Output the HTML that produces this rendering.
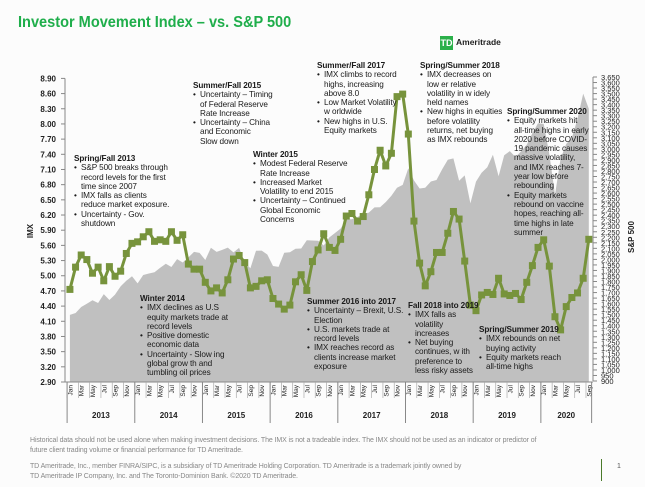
<!DOCTYPE html>
<html><head><meta charset="utf-8">
<style>
body{margin:0;background:#fff;}
#wrap{position:relative;width:645px;height:487px;overflow:hidden;font-family:"Liberation Sans",Arial,sans-serif;background:#fcfcfc;}
.ann{position:absolute;font-size:8.2px;line-height:9.3px;color:#1a1a1a;white-space:nowrap;letter-spacing:-0.1px;}
.ann .t{font-weight:bold;margin-left:-7px;}
.ann .b{position:relative;}
.ann .b:before{content:"•";position:absolute;left:-7px;}
.foot{position:absolute;font-size:7px;color:#888;line-height:10px;white-space:nowrap;letter-spacing:-0.1px;}
</style></head><body>
<div id="wrap">
<div style="position:absolute;left:18px;top:14px;font-size:16px;font-weight:bold;color:#1fae4b;transform:scaleX(0.91);transform-origin:0 0;white-space:nowrap;">Investor Movement Index – vs. S&amp;P 500</div>
<div style="position:absolute;left:440px;top:36px;height:14px;">
 <div style="position:absolute;left:0;top:0;width:13px;height:14px;background:#2bb04a;color:#fff;font-size:9px;font-weight:bold;line-height:14px;text-align:center;">TD</div>
 <div style="position:absolute;left:16px;top:1px;font-size:8.5px;font-weight:bold;color:#222;">Ameritrade</div>
</div>
<svg id="chart" width="645" height="487" style="position:absolute;left:0;top:0;"></svg>

<div class="ann" style="left:81px;top:154px;"><div class="t">Spring/Fall 2013</div><div class="b">S&amp;P 500 breaks through<br>record levels for the first<br>time since 2007</div><div class="b">IMX falls as clients<br>reduce market exposure.</div><div class="b">Uncertainty - Gov.<br>shutdown</div></div>
<div class="ann" style="left:200px;top:81px;"><div class="t">Summer/Fall 2015</div><div class="b">Uncertainty – Timing<br>of Federal Reserve<br>Rate Increase</div><div class="b">Uncertainty – China<br>and Economic<br>Slow down</div></div>
<div class="ann" style="left:260px;top:150px;"><div class="t">Winter 2015</div><div class="b">Modest Federal Reserve<br>Rate Increase</div><div class="b">Increased Market<br>Volatility to end 2015</div><div class="b">Uncertainty – Continued<br>Global Economic<br>Concerns</div></div>
<div class="ann" style="left:147px;top:294px;"><div class="t">Winter 2014</div><div class="b">IMX declines as U.S<br>equity markets trade at<br>record levels</div><div class="b">Positive domestic<br>economic data</div><div class="b">Uncertainty - Slow ing<br>global grow th and<br>tumbling oil prices</div></div>
<div class="ann" style="left:314px;top:297px;"><div class="t">Summer 2016 into 2017</div><div class="b">Uncertainty – Brexit, U.S.<br>Election</div><div class="b">U.S. markets trade at<br>record levels</div><div class="b">IMX reaches record as<br>clients increase market<br>exposure</div></div>
<div class="ann" style="left:324px;top:61px;"><div class="t">Summer/Fall 2017</div><div class="b">IMX climbs to record<br>highs, increasing<br>above 8.0</div><div class="b">Low Market Volatility<br>w orldwide</div><div class="b">New highs in U.S.<br>Equity markets</div></div>
<div class="ann" style="left:427px;top:61px;"><div class="t">Spring/Summer 2018</div><div class="b">IMX decreases on<br>low er relative<br>volatility in w idely<br>held names</div><div class="b">New highs in equities<br>before volatility<br>returns, net buying<br>as IMX rebounds</div></div>
<div class="ann" style="left:514px;top:107px;"><div class="t">Spring/Summer 2020</div><div class="b">Equity markets hit<br>all-time highs in early<br>2020 before COVID-<br>19 pandemic causes<br>massive volatility,<br>and IMX reaches 7-<br>year low before<br>rebounding</div><div class="b">Equity markets<br>rebound on vaccine<br>hopes, reaching all-<br>time highs in late<br>summer</div></div>
<div class="ann" style="left:415px;top:301px;"><div class="t">Fall 2018 into 2019</div><div class="b">IMX falls as<br>volatility<br>increases</div><div class="b">Net buying<br>continues, w ith<br>preference to<br>less risky assets</div></div>
<div class="ann" style="left:486px;top:325px;"><div class="t">Spring/Summer 2019</div><div class="b">IMX rebounds on net<br>buying activity</div><div class="b">Equity markets reach<br>all-time highs</div></div>

<div class="foot" style="left:30px;top:436px;">Historical data should not be used alone when making investment decisions. The IMX is not a tradeable index. The IMX should not be used as an indicator or predictor of<br>future client trading volume or financial performance for TD Ameritrade.</div>
<div class="foot" style="left:30px;top:462px;">TD Ameritrade, Inc., member FINRA/SIPC, is a subsidiary of TD Ameritrade Holding Corporation. TD Ameritrade is a trademark jointly owned by<br>TD Ameritrade IP Company, Inc. and The Toronto-Dominion Bank. ©2020 TD Ameritrade.</div>
<div style="position:absolute;left:601px;top:459px;width:1px;height:22px;background:#4a7a2a;"></div>
<div style="position:absolute;left:617px;top:463px;font-size:7px;color:#555;">1</div>
</div>
<script>
const years = ["2013","2014","2015","2016","2017","2018","2019","2020"];
const monthNames = ["Jan","Feb","Mar","Apr","May","Jun","Jul","Aug","Sep","Oct","Nov","Dec"];
const imxValues = [4.73,5.17,5.41,5.32,5.05,5.17,4.90,5.18,4.99,5.09,5.44,5.64,
 5.67,5.77,5.87,5.68,5.71,5.68,5.87,5.70,5.81,5.23,5.13,5.13,
 4.87,4.70,4.76,4.66,4.92,5.33,5.40,5.26,4.76,4.79,4.90,4.92,
 4.55,4.44,4.34,4.42,4.88,5.02,4.71,5.28,5.51,5.83,5.56,5.50,
 5.72,6.18,6.23,6.08,6.17,6.60,7.10,7.48,7.17,7.42,8.54,8.59,
 7.80,6.08,5.25,4.80,5.08,5.46,5.46,5.84,6.27,6.12,5.29,4.42,
 4.31,4.62,4.67,4.63,4.95,4.64,4.61,4.65,4.53,4.87,5.20,5.56,
 5.71,5.19,4.19,3.93,4.39,4.57,4.66,4.95,5.72];
const spxValues = [1498,1515,1569,1598,1631,1606,1686,1633,1682,1757,1806,1848,
 1783,1859,1872,1884,1924,1960,1931,2003,1972,2018,2068,2059,
 1995,2105,2068,2086,2107,2063,2104,1972,1920,2079,2080,2044,
 1940,1932,2060,2065,2097,2099,2174,2171,2168,2126,2199,2239,
 2279,2364,2363,2384,2412,2423,2470,2472,2519,2575,2648,2674,
 2824,2714,2641,2648,2705,2718,2816,2902,2914,2712,2760,2507,
 2704,2784,2834,2946,2752,2942,2980,2926,2977,3038,3141,3231,
 3226,2954,2585,2912,3044,3100,3271,3500,3363];
const leftTicks = [2.9,3.2,3.5,3.8,4.1,4.4,4.7,5.0,5.3,5.6,5.9,6.2,6.5,6.8,7.1,7.4,7.7,8.0,8.3,8.6,8.9];
const rightMin = 900, rightMax = 3650, rightStep = 50;

const NS="http://www.w3.org/2000/svg";
const svg=document.getElementById('chart');
const X0=67.1, BW=5.64, YB=382, YT=78.4;
const xC=i=>X0+BW*(i+0.5);
const yL=v=>YB-(v-2.9)/(8.9-2.9)*(YB-YT);
const yR=v=>381-(v-rightMin)/(rightMax-rightMin)*(381-77);
function mk(tag,attrs,txt){const e=document.createElementNS(NS,tag);for(const k in attrs)e.setAttribute(k,attrs[k]);if(txt!==undefined)e.textContent=txt;svg.appendChild(e);return e;}

let d=`M${xC(0)},${YB}`;
spxValues.forEach((v,i)=>{d+=` L${xC(i).toFixed(1)},${yR(v).toFixed(1)}`;});
d+=` L${xC(spxValues.length-1)},${YB} Z`;
const area=mk('path',{d:d,fill:'#c0c0c0'});



const la=mk('line',{x1:65,y1:YT,x2:65,y2:YB,stroke:'#888','stroke-width':1});


leftTicks.forEach(v=>{
 mk('line',{x1:61,y1:yL(v),x2:65,y2:yL(v),stroke:'#888'});
 const t=mk('text',{x:56,y:yL(v)+3,'text-anchor':'end','font-size':8,'font-weight':'bold',fill:'#222'},v.toFixed(2));
 
 
});
const lt=mk('text',{x:0,y:0,transform:'translate(33,231) rotate(-90)','text-anchor':'middle','font-size':8,'font-weight':'bold',fill:'#222'},'IMX');



const ra=mk('line',{x1:593,y1:77,x2:593,y2:381,stroke:'#888'});


for(let v=rightMin;v<=rightMax;v+=rightStep){
 mk('line',{x1:593,y1:yR(v),x2:597,y2:yR(v),stroke:'#888'});
 const t=mk('text',{x:601,y:yR(v)+3,'font-size':7.5,fill:'#222'},v.toLocaleString('en-US'));
 
 
}
const rt=mk('text',{x:0,y:0,transform:'translate(634,237) rotate(-90)','text-anchor':'middle','font-size':8,'font-weight':'bold',fill:'#222'},'S&P 500');



mk('line',{x1:65,y1:YB,x2:593,y2:YB,stroke:'#888'});
const n=imxValues.length;
for(let i=0;i<=n;i++){ if(i%2==0) mk('line',{x1:X0+BW*i,y1:YB,x2:X0+BW*i,y2:YB+16,stroke:'#aaa','stroke-width':0.7}); }
for(let i=0;i<n;i++){
 if(i%2==0){
  const t=mk('text',{x:0,y:0,transform:`translate(${(xC(i)+2.5).toFixed(1)},${YB+3}) rotate(-90)`,'text-anchor':'end','font-size':6.5,fill:'#222'},monthNames[i%12]);
  
  
 }
}
years.forEach((y,k)=>{
 const x0=X0+BW*12*k, x1=Math.min(X0+BW*12*(k+1),X0+BW*n);
 mk('line',{x1:x0,y1:YB,x2:x0,y2:423,stroke:'#888'});
 const t=mk('text',{x:(x0+x1)/2,y:418,'text-anchor':'middle','font-size':8,'font-weight':'bold',fill:'#222'},y);
 
 
});
mk('line',{x1:X0+BW*n,y1:YB,x2:X0+BW*n,y2:423,stroke:'#888'});

const pts=imxValues.map((v,i)=>`${xC(i).toFixed(1)},${yL(v).toFixed(1)}`).join(' ');
const pl=mk('polyline',{points:pts,fill:'none',stroke:'#77933c','stroke-width':3,'stroke-linejoin':'round'});


imxValues.forEach((v,i)=>{
 const r=mk('rect',{x:xC(i)-3.5,y:yL(v)-3.5,width:7,height:7,fill:'#77933c'});
 
 
});
</script>
</body></html>
